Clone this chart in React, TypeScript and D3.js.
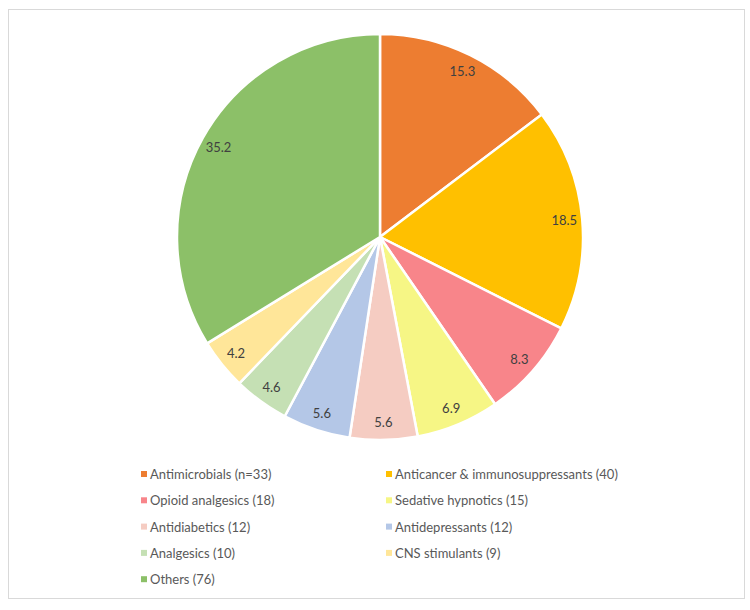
import React from "react";
import * as d3 from "d3";

const categories = [
  "Antimicrobials (n=33)",
  "Anticancer & immunosuppressants (40)",
  "Opioid analgesics (18)",
  "Sedative hypnotics (15)",
  "Antidiabetics (12)",
  "Antidepressants (12)",
  "Analgesics (10)",
  "CNS stimulants (9)",
  "Others (76)",
];
const values = [15.3, 18.5, 8.3, 6.9, 5.6, 5.6, 4.6, 4.2, 35.2];
const colors = [
  "#ED7D31",
  "#FFC000",
  "#F8858A",
  "#F6F685",
  "#F5CCC2",
  "#B4C7E7",
  "#C5E0B4",
  "#FFE699",
  "#8CC068",
];

export default function App() {
  const cx = 380;
  const cy = 237;
  const r = 203;
  const pie = d3.pie<number>().sort(null).value((d) => d);
  const arcs = pie(values);
  const arc = d3.arc<d3.PieArcDatum<number>>().innerRadius(0).outerRadius(r);
  const labelArc = d3
    .arc<d3.PieArcDatum<number>>()
    .innerRadius(r - 18)
    .outerRadius(r - 18);

  const font = "Lato, Carlito, 'Open Sans', sans-serif";
  const legendX = [141, 386];
  const legendY0 = 474;
  const legendDy = 26.3;

  return (
    <svg
      width={750}
      height={610}
      style={{ position: "absolute", left: 0, top: 0, background: "#fff" }}
    >
      <rect x={8.5} y={9.5} width={736} height={589} fill="#fff" stroke="#d9d9d9" strokeWidth={1} />
      <g transform={`translate(${cx},${cy})`}>
        {arcs.map((a, i) => (
          <path key={i} d={arc(a) || ""} fill={colors[i]} stroke="#fff" strokeWidth={2.5} strokeLinejoin="round" />
        ))}
        {arcs.map((a, i) => {
          const [x, y] = labelArc.centroid(a);
          return (
            <text
              key={i}
              x={x}
              y={y}
              textAnchor="middle"
              dominantBaseline="central"
              fontFamily={font}
              fontSize={13}
              fill="#404040"
            >
              {values[i].toFixed(1)}
            </text>
          );
        })}
      </g>
      {categories.map((c, i) => {
        const col = i % 2;
        const row = Math.floor(i / 2);
        const x = legendX[col];
        const y = legendY0 + row * legendDy;
        return (
          <g key={i}>
            <rect x={x} y={y - 3} width={6} height={6} fill={colors[i]} />
            <text
              x={x + 9}
              y={y}
              dominantBaseline="central"
              fontFamily={font}
              fontSize={13}
              fill="#595959"
            >
              {c}
            </text>
          </g>
        );
      })}
    </svg>
  );
}
